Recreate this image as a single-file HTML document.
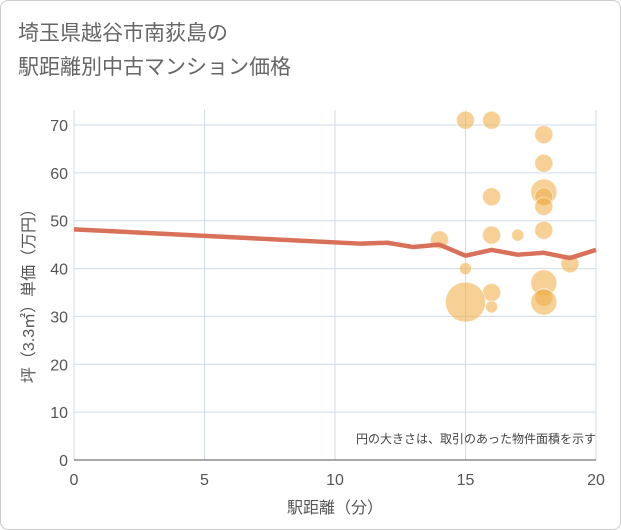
<!DOCTYPE html>
<html><head><meta charset="utf-8">
<style>
body{margin:0;background:#fff;font-family:"Liberation Sans","Noto Sans CJK JP",sans-serif;}
#wrap{position:relative;width:619px;height:528px;border:1px solid #ccc;border-radius:8px;overflow:hidden;background:#fff;}
</style></head><body>
<div id="wrap">
<svg id="chart" width="621" height="530" style="position:absolute;left:-1px;top:-1px">
<text x="18" y="40" font-size="21" fill="#666">埼玉県越谷市南荻島の</text>
<text x="18" y="74" font-size="21" fill="#666">駅距離別中古マンション価格</text>
<g id="grid"></g><g id="bubbles"></g><g id="line"></g><g id="axes"></g>
<text x="596" y="443" font-size="12" fill="#444" text-anchor="end">円の大きさは、取引のあった物件面積を示す</text>
<text x="335" y="513" font-size="16" fill="#555" text-anchor="middle">駅距離（分）</text>
<text transform="translate(34,292) rotate(-90)" font-size="16" fill="#555" text-anchor="middle">坪（3.3㎡）単価（万円）</text>
</svg>
</div>
<script>
const xTicks=[0,5,10,15,20];
const yTicks=[0,10,20,30,40,50,60,70];
const bubbleX=[15,16,18,18,18,18,18,16,16,17,18,14,15,19,16,16,15,18,18,18];
const bubbleY=[71,71,68,62,56,55,53,55,47,47,48,46,40,41,35,32,33,37,34,33];
const bubbleR=[9,9,9,9,13,9,9,9,9,6,9,9,6,9,9,6,20,13,9,13];
const lineX=[0,11,12,13,14,15,16,17,18,19,20];
const lineY=[48.2,45.2,45.4,44.5,45,42.7,43.9,42.9,43.3,42.2,43.9];
const L=74,R=596,T=110,B=460;
const xs=v=>L+(v-0)/20*(R-L);
const ys=v=>B-v/70*(B-125);
const NS="http://www.w3.org/2000/svg";
function mk(t,a,p){const e=document.createElementNS(NS,t);for(const k in a)e.setAttribute(k,a[k]);p.appendChild(e);return e;}
const g=document.getElementById('grid'),ax=document.getElementById('axes');
xTicks.forEach(v=>{
 const l=mk('line',{x1:xs(v),x2:xs(v),y1:T,y2:B,stroke:'#cfdbe6','stroke-width':1},g);
 
 
 const t=mk('text',{x:xs(v),y:B+25,'font-size':16,fill:'#555','text-anchor':'middle'},ax);
 t.textContent=v;
 
 
});
yTicks.forEach(v=>{
 const l=mk('line',{x1:L,x2:R,y1:ys(v),y2:ys(v),stroke:'#cfdbe6','stroke-width':1},g);
 
 
 const t=mk('text',{x:L-6,y:ys(v)+6,'font-size':16,fill:'#555','text-anchor':'end'},ax);
 t.textContent=v;
 
 
});
const bl=mk('line',{x1:L,x2:R,y1:B,y2:B,stroke:'#555','stroke-width':1},ax);


const bg=document.getElementById('bubbles');
bubbleX.forEach((x,i)=>{
 const c=mk('circle',{cx:xs(x),cy:ys(bubbleY[i]),r:bubbleR[i],fill:'#f0b04f','fill-opacity':0.6,stroke:'#fff','stroke-opacity':0.5},bg);
 
 
});
const p=mk('polyline',{points:lineX.map((x,i)=>xs(x)+','+ys(lineY[i])).join(' '),fill:'none',stroke:'#d9705a','stroke-width':4.5,'stroke-linejoin':'round'},document.getElementById('line'));


</script>
</body></html>
